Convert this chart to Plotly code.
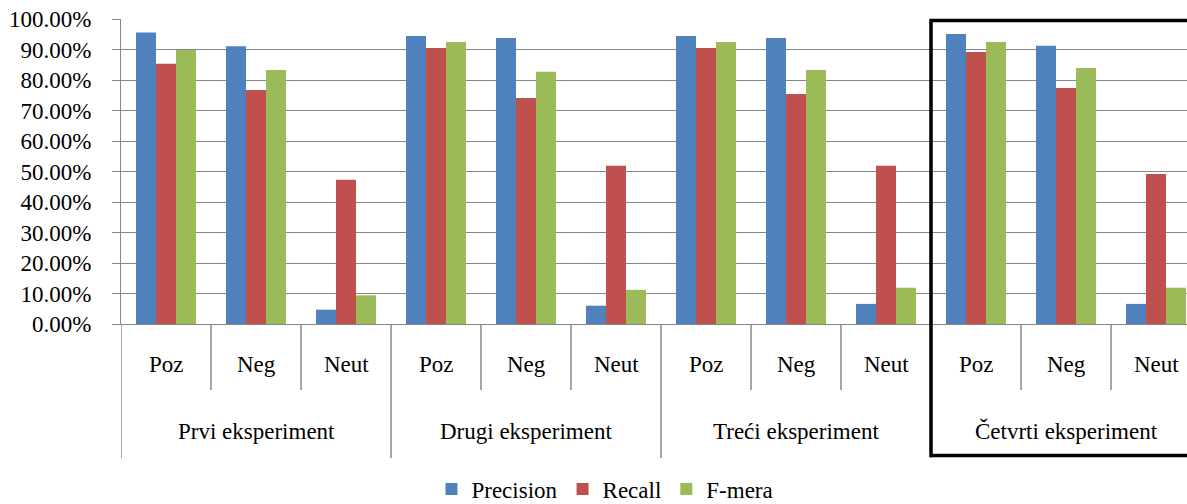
import plotly.graph_objects as go

# Experiment groups and sentiment classes along the x axis
experiments = ["Prvi eksperiment", "Drugi eksperiment", "Treći eksperiment", "Četvrti eksperiment"]
classes = ["Poz", "Neg", "Neut"]

# Scores in percent, ordered experiment by experiment (Poz, Neg, Neut)
precision = [95.6, 91.1, 4.7, 94.4, 93.8, 6.0, 94.4, 93.8, 6.6, 95.1, 91.2, 6.6]
recall = [85.3, 76.7, 47.3, 90.5, 74.1, 51.9, 90.5, 75.4, 51.9, 89.2, 77.4, 49.2]
f_mera = [89.8, 83.3, 9.4, 92.5, 82.7, 11.2, 92.5, 83.3, 11.9, 92.5, 83.9, 11.9]

series_names = ["Precision", "Recall", "F-mera"]
series_colors = ["#4F81BD", "#C0504D", "#9BBB59"]

x_levels = [
    [e for e in experiments for _ in classes],
    [c for _ in experiments for c in classes],
]

FONT = "Liberation Serif"
GRID = "#878787"
FS = 23

fig = go.Figure()
for name, vals, color in zip(series_names, [precision, recall, f_mera], series_colors):
    fig.add_trace(go.Bar(x=x_levels, y=vals, name=name,
                         marker=dict(color=color, line=dict(width=0))))

W, H = 1187, 504
ML, MT, MB = 121, 19, 180
cat_px = 90
n_vis = (W - ML) / cat_px
plot_h = H - MT - MB


def paper_y(px):
    """Convert a pixel row of the page into a paper y coordinate."""
    return (H - MB - px) / plot_h


fig.update_layout(
    width=W, height=H,
    margin=dict(l=ML, r=0, t=MT, b=MB, pad=0, autoexpand=False),
    paper_bgcolor="white", plot_bgcolor="white",
    font=dict(family=FONT, size=FS, color="black"),
    barmode="group", bargap=1/3, bargroupgap=0,
    showlegend=True,
    legend=dict(orientation="h", x=0.454, xanchor="center", y=paper_y(489), yanchor="middle",
                font=dict(family=FONT, size=FS, color="black"), itemwidth=30,
                traceorder="normal", bgcolor="rgba(0,0,0,0)"),
)

fig.update_yaxes(
    range=[0, 100], dtick=10, tickformat=".2f", ticksuffix="%",
    showgrid=True, gridcolor=GRID, gridwidth=1,
    showline=True, linecolor=GRID, linewidth=1,
    ticks="outside", ticklen=8, tickcolor=GRID, ticklabelstandoff=16,
    zeroline=False, automargin=False,
    tickfont=dict(family=FONT, size=FS, color="black"),
)

fig.update_xaxes(
    type="multicategory",
    range=[-0.5, -0.5 + n_vis],
    showline=True, linecolor=GRID, linewidth=1,
    ticks="", showticklabels=False, showdividers=False, automargin=False,
)

n_cls = len(classes)

# Class labels and the separators between them
for g, exp in enumerate(experiments):
    for k, cls in enumerate(classes):
        idx = g * n_cls + k
        fig.add_annotation(x=idx, y=paper_y(364), xref="x", yref="paper", text=cls,
                           showarrow=False, xanchor="center", yanchor="middle",
                           font=dict(family=FONT, size=FS, color="black"))
        if k > 0:
            fig.add_shape(type="line", xref="x", yref="paper", x0=idx - 0.5, x1=idx - 0.5,
                          y0=0, y1=paper_y(390), line=dict(color=GRID, width=1.5), layer="below")
    # Experiment label centred under its three classes
    fig.add_annotation(x=g * n_cls + (n_cls - 1) / 2, y=paper_y(431), xref="x", yref="paper",
                       text=exp, showarrow=False, xanchor="center", yanchor="middle",
                       font=dict(family=FONT, size=FS, color="black"))
    # Long divider at the left edge of each experiment
    xb = g * n_cls - 0.5
    fig.add_shape(type="line", xref="x", yref="paper", x0=xb, x1=xb,
                  y0=0, y1=paper_y(458), line=dict(color=GRID, width=1.5), layer="below")

# Frame around the fourth experiment
last_start = (len(experiments) - 1) * n_cls - 0.5
fig.add_shape(type="rect", xref="x", yref="paper",
              x0=last_start, x1=len(experiments) * n_cls + 1,
              y0=paper_y(455.5), y1=paper_y(20.5),
              line=dict(color="black", width=3.5), fillcolor="rgba(0,0,0,0)", layer="above")

fig.write_html("out.html")
